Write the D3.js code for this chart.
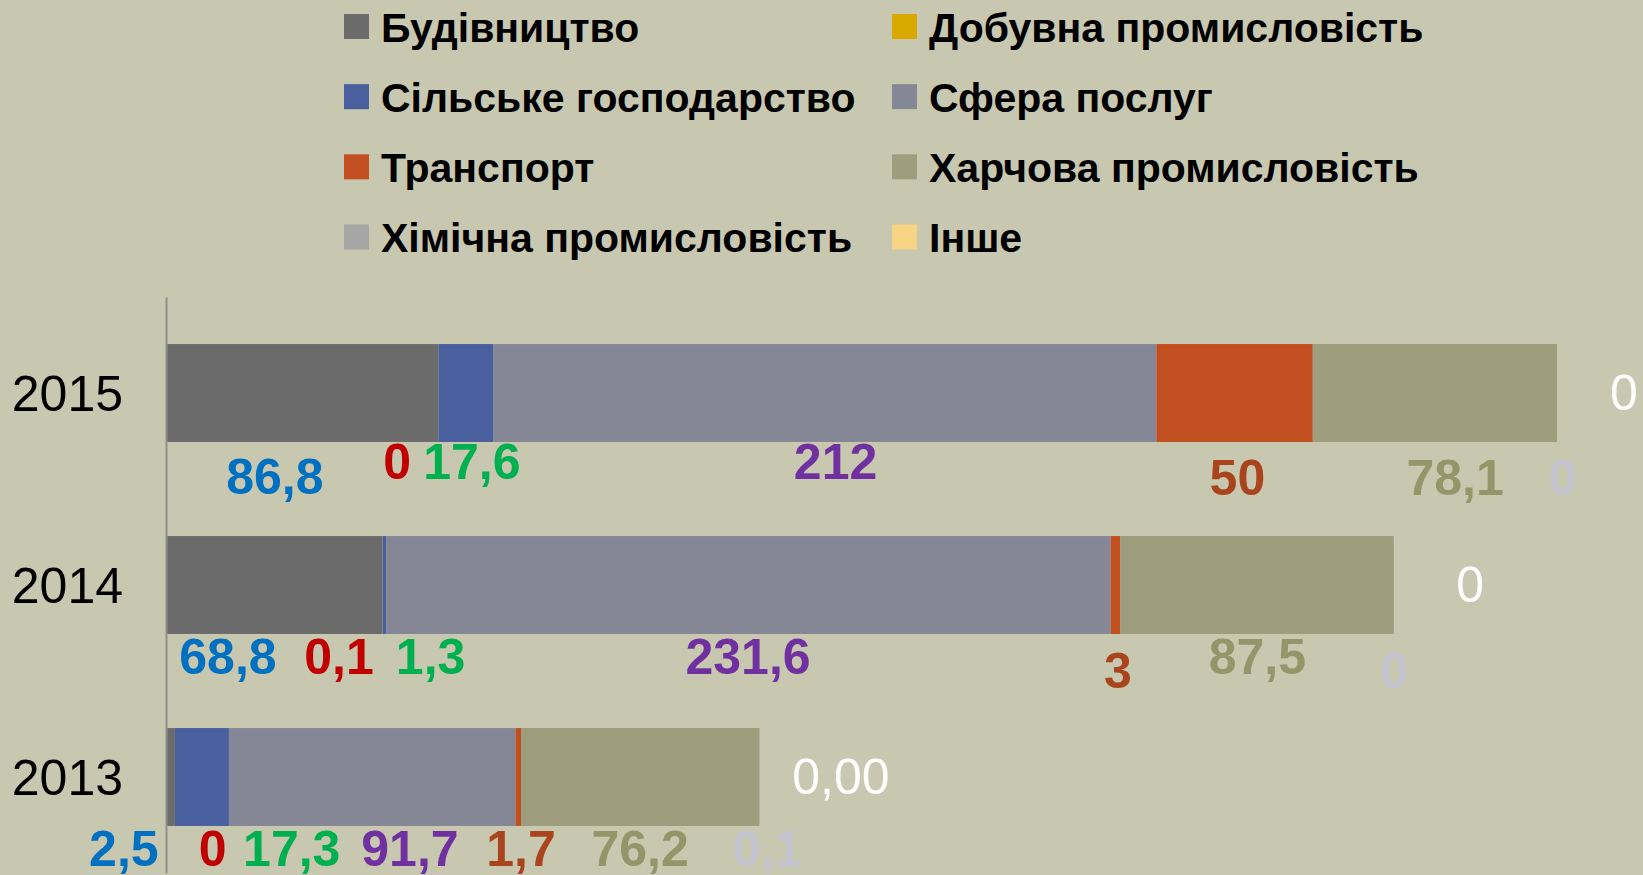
<!DOCTYPE html>
<html>
<head>
<meta charset="utf-8">
<script src="https://cdn.jsdelivr.net/npm/d3@7"></script>
<style>
  html, body { margin: 0; padding: 0; background: #C8C8B0; }
  svg { display: block; }
  text { font-family: "Liberation Sans", Arial, sans-serif; }
</style>
</head>
<body>
<svg id="chart" width="1643" height="875"></svg>
<script>
// ---- data ----
const years = ["2015", "2014", "2013"];
const sectors = [
  "Будівництво", "Добувна промисловість", "Сільське господарство", "Сфера послуг",
  "Транспорт", "Харчова промисловість", "Хімічна промисловість", "Інше"
];
const budivnytstvo   = [86.8, 68.8, 2.5];
const dobuvna        = [0, 0.1, 0];
const silske         = [17.6, 1.3, 17.3];
const sferaPoslug    = [212, 231.6, 91.7];
const transport      = [50, 3, 1.7];
const kharchova      = [78.1, 87.5, 76.2];
const khimichna      = [0, 0, 0.1];
const inshe          = [0, 0, 0];
const insheDecimals  = [0, 0, 2];

// ---- styles & label layout (kept apart from the data) ----
const barColors   = ["#6B6B6B", "#DAA900", "#4A5F9D", "#858796", "#C24F1F", "#9E9E7E", "#A6A6A6", "#F7D384"];
const labelColors = ["#0070C0", "#C00000", "#00B050", "#7030A0", "#A9441C", "#95956A", "#C4C4D0", "#FFFFFF"];
// label anchor along the value axis (value units), per sector, per year
const labelAt = [
  [34.5, 19.5, -13.8],
  [73.6, 55.0, 14.6],
  [97.5, 84.3, 39.9],
  [213.8, 185.8, 77.7],
  [342.3, 304.1, 113.2],
  [411.9, 348.7, 151.3],
  [446.3, 392.4, 192.0],
  [465.9, 416.7, 215.5]
];
// label baseline offset below band top (px), per sector, per year
const labelDy = [
  [150, 138, 137.5],
  [135, 138, 137.5],
  [135, 138, 137.5],
  [135, 138, 137.5],
  [151, 152, 137.5],
  [151, 138, 137.5],
  [151, 152, 137.5],
  [66, 66, 66]
];

const seriesValues = [budivnytstvo, dobuvna, silske, sferaPoslug, transport, kharchova, khimichna, inshe];

const rows = years.map((y, i) => {
  const r = { year: y };
  sectors.forEach((s, k) => { r[s] = seriesValues[k][i]; });
  return r;
});

const svg = d3.select("#chart");

const x = d3.scaleLinear().domain([0, 450]).range([167, 167 + 450 * 1390 / 444.5]);
const y = d3.scaleBand().domain(years).range([297, 873]).paddingInner(0.49).paddingOuter(0.245);

const stack = d3.stack().keys(sectors)(rows);

// bars
const layers = svg.append("g").selectAll("g").data(stack).join("g")
  .attr("fill", (d, k) => barColors[k]);
layers.selectAll("rect").data(d => d).join("rect")
  .attr("x", d => x(d[0]))
  .attr("y", d => y(d.data.year))
  .attr("width", d => Math.max(0, x(d[1]) - x(d[0])))
  .attr("height", y.bandwidth());

// axis
const axis = svg.append("g").attr("transform", `translate(${x(0) - 1},0)`)
  .call(d3.axisLeft(y).tickSize(0).tickSizeOuter(0).tickPadding(43));
axis.select(".domain").attr("stroke", "#8E8E8A").attr("stroke-width", 2);
axis.selectAll(".tick text")
  .attr("font-family", "Liberation Sans, Arial, sans-serif")
  .attr("font-size", 50).attr("fill", "#000").attr("dy", "0.35em");

// data labels
const fmt = (v, dec) => (dec ? v.toFixed(dec) : String(v)).replace(".", ",");
sectors.forEach((s, k) => {
  const g = svg.append("g");
  years.forEach((yr, i) => {
    const v = seriesValues[k][i];
    const txt = k === 7 ? fmt(v, insheDecimals[i]) : fmt(v, 0);
    g.append("text")
      .attr("x", x(labelAt[k][i]))
      .attr("y", y(yr) + labelDy[k][i])
      .attr("text-anchor", "middle")
      .attr("font-size", 50)
      .attr("font-weight", k === 7 ? "normal" : "bold")
      .attr("fill", labelColors[k])
      .text(txt);
  });
});

// legend (2 columns, row-major)
const legendColX = [344, 892];
const legendRowY = d3.scalePoint().domain([0, 1, 2, 3]).range([26.5, 237]);
const lg = svg.append("g").selectAll("g").data(sectors).join("g")
  .attr("transform", (d, k) => `translate(${legendColX[k % 2]},${legendRowY(Math.floor(k / 2))})`);
lg.append("rect").attr("x", 0).attr("y", -12.5).attr("width", 25).attr("height", 25)
  .attr("fill", (d, k) => barColors[k]);
lg.append("text").attr("x", 37).attr("y", 15)
  .attr("font-size", 41).attr("font-weight", "bold").attr("fill", "#000")
  .text(d => d);
</script>
</body>
</html>
